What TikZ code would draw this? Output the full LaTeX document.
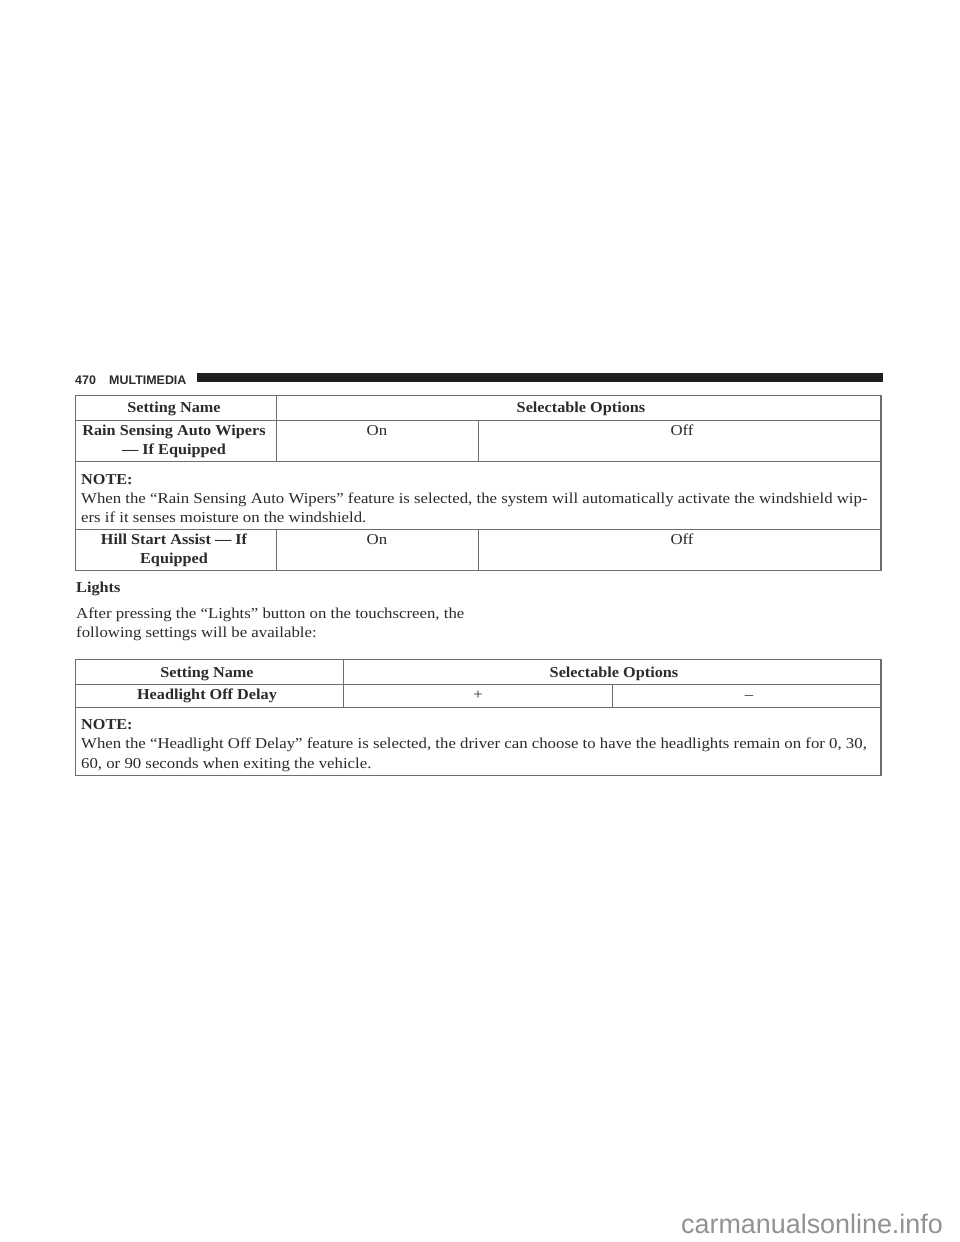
\documentclass[tikz,border=0pt]{standalone}
\usepackage{fontspec}
\setmainfont[FakeStretch=1.108,BoldFeatures={FakeStretch=1.072}]{Liberation Serif}
\newfontfamily\hdfont{Liberation Sans}
\definecolor{ink}{HTML}{2B2B2B}
\definecolor{rule}{HTML}{6E6E6E}
\definecolor{mark}{HTML}{929292}
\tikzset{
 x=1bp,y=-1bp,
 txt/.style={inner sep=0pt,anchor=base,text=ink,font=\fontsize{15.2}{17}\selectfont},
 btxt/.style={txt,font=\fontsize{15.2}{17}\selectfont\bfseries},
 ltxt/.style={txt,anchor=base west},
 lbtxt/.style={btxt,anchor=base west},
 hdtxt/.style={inner sep=0pt,anchor=base west,text=ink,font=\fontsize{12.5}{14}\selectfont\hdfont\bfseries},
 rulel/.style={draw=rule,line width=1.1bp},
}
\begin{document}
\begin{tikzpicture}
\useasboundingbox[fill=white] (0,0) rectangle (960,1242);
% page header
\node[hdtxt] (pg) at (75,384) {470};
\node[hdtxt] (mm) at (109,384) {MULTIMEDIA};
\fill[black!88] (197,373) rectangle (883,382);
% table 1
\draw[rulel] (75.5,395.5) rectangle (881,570.5);
\draw[rulel] (75.5,420.5) -- (881,420.5);
\draw[rulel] (75.5,461.5) -- (881,461.5);
\draw[rulel] (75.5,529.5) -- (881,529.5);
\draw[rulel] (276.5,395.5) -- (276.5,461.5);
\draw[rulel] (276.5,529.5) -- (276.5,570.5);
\draw[rulel] (478.5,420.5) -- (478.5,461.5);
\draw[rulel] (478.5,529.5) -- (478.5,570.5);
\node[btxt] (a1) at (174,412) {Setting Name};
\node[btxt] (a2) at (581,412) {Selectable Options};
\node[btxt] (a3) at (174,435) {Rain Sensing Auto Wipers};
\node[btxt] (a4) at (174,454) {--- If Equipped};
\node[txt] (a5) at (377,435) {On};
\node[txt] (a6) at (682,435) {Off};
\node[lbtxt] (a7) at (81,484) {NOTE:};
\node[ltxt] (a8) at (81,503) {When the “Rain Sensing Auto Wipers” feature is selected, the system will automatically activate the windshield wip-};
\node[ltxt] (a9) at (81,522) {ers if it senses moisture on the windshield.};
\node[btxt] (a10) at (174,544) {Hill Start Assist --- If};
\node[btxt] (a11) at (174,563) {Equipped};
\node[txt] (a12) at (377,544) {On};
\node[txt] (a13) at (682,544) {Off};
% body
\node[lbtxt] (b1) at (76,592) {Lights};
\node[ltxt] (b2) at (76,618) {After pressing the “Lights” button on the touchscreen, the};
\node[ltxt] (b3) at (76,637) {following settings will be available:};
% table 2
\draw[rulel] (75.5,659.5) rectangle (881,775.5);
\draw[rulel] (75.5,684.5) -- (881,684.5);
\draw[rulel] (75.5,707.5) -- (881,707.5);
\draw[rulel] (343.5,659.5) -- (343.5,707.5);
\draw[rulel] (612.5,684.5) -- (612.5,707.5);
\node[btxt] (c1) at (207,677) {Setting Name};
\node[btxt] (c2) at (614,677) {Selectable Options};
\node[btxt] (c3) at (207,699) {Headlight Off Delay};
\node[txt] (c4) at (478,699) {+};
\node[txt] (c5) at (749,699) {--};
\node[lbtxt] (c6) at (81,729) {NOTE:};
\node[ltxt] (c7) at (81,748) {When the “Headlight Off Delay” feature is selected, the driver can choose to have the headlights remain on for 0, 30,};
\node[ltxt] (c8) at (81,768) {60, or 90 seconds when exiting the vehicle.};
% watermark
\node[inner sep=0pt,anchor=base west,text=mark,font=\fontsize{27}{30}\selectfont\hdfont] (w) at (681,1233) {carmanualsonline.info};
\end{tikzpicture}
\end{document}
